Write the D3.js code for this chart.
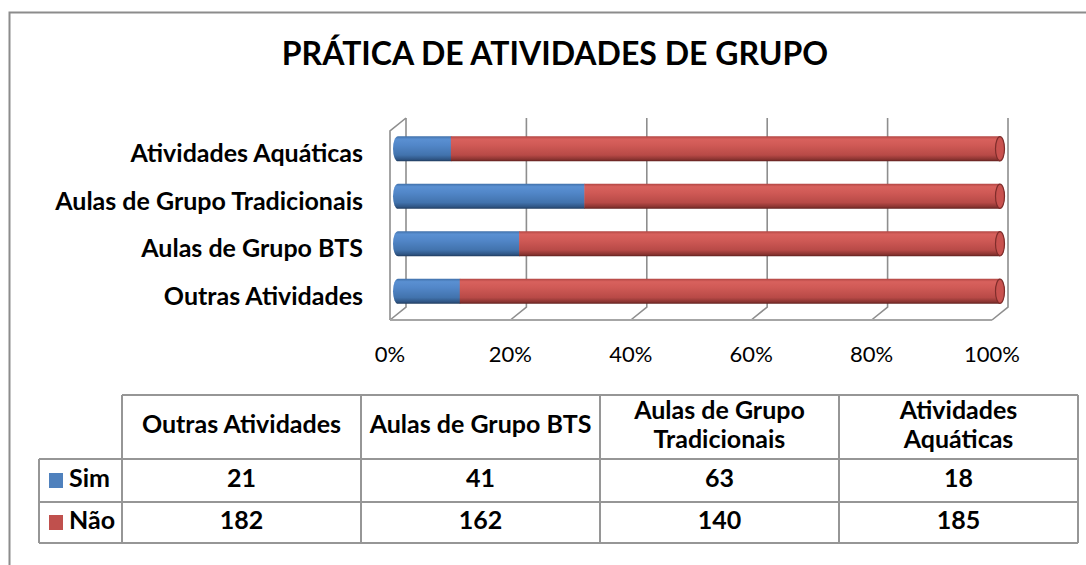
<!DOCTYPE html>
<html>
<head>
<meta charset="utf-8">
<script src="https://cdn.jsdelivr.net/npm/d3@7"></script>
<style>
  body { margin: 0; background: #fff; }
  text { font-family: Lato, "Open Sans", sans-serif; fill: #000; }
</style>
</head>
<body>
<script>
// ************************************************************************************
// DATA
// ************************************************************************************
var categories  = ["Outras Atividades", "Aulas de Grupo BTS", "Aulas de Grupo Tradicionais", "Atividades Aquáticas"]
  , sim         = [21, 41, 63, 18]
  , nao         = [182, 162, 140, 185]
  , seriesNames = ["Sim", "Não"]
  , tickValues  = [0, 0.2, 0.4, 0.6, 0.8, 1]

// ************************************************************************************
// GLOBAL VARIABLES
// ************************************************************************************
var W = 1086, H = 565
  , depth = {x: 16, y: -13}          // 3d offset back wall vs front
  , floorY = 320, wallTop = 118
  , colors = {Sim: "#4f81bd", "Não": "#c0504d"}
  , gridColor = "#8e8e8e"
  , labelSize = "25px"

var svg = d3.select("body").append("svg")
            .attr("width", W).attr("height", H)

var defs = svg.append("defs")

function cylGradient (id, stops) {
	var g = defs.append("linearGradient").attr("id", id)
	            .attr("x1", 0).attr("y1", 0).attr("x2", 0).attr("y2", 1)
	stops.forEach(function (s) {
		g.append("stop").attr("offset", s[0]).attr("stop-color", s[1])
	})
}
cylGradient("g-Sim", [[0, "#3f6fa8"], [0.12, "#5a90d2"], [0.35, "#5287c9"], [0.75, "#4273ad"], [0.92, "#2f5584"], [1, "#1f3a5c"]])
cylGradient("g-Não", [[0, "#b04542"], [0.12, "#d8615d"], [0.35, "#d05a56"], [0.75, "#b84a47"], [0.92, "#8a3431"], [1, "#5e1f1d"]])

// ************************************************************************************
// FRAME + TITLE
// ************************************************************************************
svg.append("path")
   .attr("d", "M9.5," + H + " V12.5 H" + W)
   .attr("fill", "none").attr("stroke", "#8c8c8c").attr("stroke-width", 2)

svg.append("text")
   .attr("x", 555).attr("y", 57)
   .attr("text-anchor", "middle").attr("dominant-baseline", "middle")
   .style("font-size", "32px").style("font-weight", "bold")
   .text("PRÁTICA DE ATIVIDADES DE GRUPO")

// ************************************************************************************
// SCALES
// ************************************************************************************
var x = d3.scaleLinear().domain([0, 1]).range([390, 992])      // front edge
  , xBar = function (v) { return x(v) + depth.x / 2 }           // mid depth
  , y = d3.scaleBand()
          .domain(categories.slice().reverse())
          .range([125, 315])
          .paddingInner(0.47).paddingOuter(0.235)

// ************************************************************************************
// 3D WALLS / GRID
// ************************************************************************************
var grid = svg.append("g").attr("fill", "none").attr("stroke", gridColor).attr("stroke-width", 1.6)

// side wall (left)
grid.append("path")
    .attr("d", "M" + x(0) + "," + floorY + " V" + (wallTop - depth.y) +
               " L" + (x(0) + depth.x) + "," + wallTop)

tickValues.forEach(function (t) {
	grid.append("path")
	    .attr("d", "M" + (x(t) + depth.x) + "," + wallTop +
	               " V" + (floorY + depth.y) +
	               " L" + x(t) + "," + floorY)
})

// floor front edge
grid.append("line")
    .attr("x1", x(0)).attr("x2", x(1))
    .attr("y1", floorY).attr("y2", floorY)
    .attr("stroke", "#a6a6a6").attr("stroke-width", 2.2)

// ************************************************************************************
// BARS (cylinders)
// ************************************************************************************
var rows = categories.map(function (c, i) { return {cat: c, "Sim": sim[i], "Não": nao[i]} })
  , stacked = d3.stack().keys(seriesNames).offset(d3.stackOffsetExpand)(rows)
  , bh = y.bandwidth()
  , rx = 5

var layers = svg.append("g").selectAll("g")
	.data(stacked).join("g")
	.attr("fill", function (s) { return "url(#g-" + s.key + ")" })

layers.selectAll("path")
	.data(function (s) { return s })
	.join("path")
	.attr("d", function (d) {
		var x0 = xBar(d[0]), x1 = xBar(d[1]), top = y(d.data.cat), bot = top + bh
		if (d[0] === 0)
			return "M" + x1 + "," + top + " H" + x0 +
			       " A" + rx + "," + (bh / 2) + " 0 0 0 " + x0 + "," + bot +
			       " H" + x1 + " Z"
		return "M" + (x0 - 0.5) + "," + top + " H" + x1 + " V" + bot + " H" + (x0 - 0.5) + " Z"
	})

// end caps
svg.append("g").selectAll("ellipse")
	.data(rows).join("ellipse")
	.attr("cx", xBar(1))
	.attr("cy", function (d) { return y(d.cat) + bh / 2 })
	.attr("rx", rx - 0.5).attr("ry", bh / 2 - 0.5)
	.attr("fill", "#c9524f").attr("stroke", "#7f2d2b").attr("stroke-width", 1.2)

// ************************************************************************************
// AXES LABELS
// ************************************************************************************
svg.append("g").selectAll("text")
	.data(categories).join("text")
	.attr("x", 363)
	.attr("y", function (c) { return y(c) + bh / 2 + 7 })
	.attr("text-anchor", "end").attr("dominant-baseline", "middle")
	.style("font-size", labelSize).style("font-weight", "bold")
	.text(function (c) { return c })

svg.append("g").selectAll("text")
	.data(tickValues).join("text")
	.attr("x", function (t) { return x(t) })
	.attr("y", 356)
	.attr("text-anchor", "middle").attr("dominant-baseline", "middle")
	.style("font-size", "22px")
	.text(d3.format(".0%"))

// ************************************************************************************
// DATA TABLE
// ************************************************************************************
var col = d3.scaleBand().domain(categories).range([122, 1078])
  , tTop = 395, tHead = 459, tRows = [459, 502, 543], tLeft = 39
  , table = svg.append("g")
  , lines = table.append("g").attr("stroke", "#969696").attr("stroke-width", 2).attr("fill", "none")

lines.append("line").attr("x1", col.range()[0]).attr("x2", col.range()[1]).attr("y1", tTop).attr("y2", tTop)
tRows.forEach(function (ry) {
	lines.append("line").attr("x1", tLeft).attr("x2", col.range()[1]).attr("y1", ry).attr("y2", ry)
})
lines.append("line").attr("x1", tLeft).attr("x2", tLeft).attr("y1", tHead).attr("y2", tRows[2])
categories.concat([null]).forEach(function (c) {
	var cx = c === null ? col.range()[1] : col(c)
	lines.append("line").attr("x1", cx).attr("x2", cx).attr("y1", tTop).attr("y2", tRows[2])
})

// header cells, wrapped if too wide
categories.forEach(function (c) {
	var cx = col(c) + col.bandwidth() / 2
	  , t = table.append("text")
	             .attr("x", cx).attr("y", (tTop + tHead) / 2)
	             .attr("text-anchor", "middle").attr("dominant-baseline", "middle")
	             .style("font-size", labelSize).style("font-weight", "bold")
	             .text(c)
	if (t.node().getComputedTextLength() > col.bandwidth() - 10) {
		var words = c.split(" ")
		  , split = words.length === 2 ? 1 : words.length - 1
		  , l1 = words.slice(0, split).join(" ")
		  , l2 = words.slice(split).join(" ")
		t.text(null)
		t.append("tspan").attr("x", cx).attr("y", (tTop + tHead) / 2 - 14.5).text(l1)
		t.append("tspan").attr("x", cx).attr("y", (tTop + tHead) / 2 + 14.5).text(l2)
	}
})

// series rows
var seriesVals = {Sim: sim, "Não": nao}
seriesNames.forEach(function (s, i) {
	var cy = (tRows[i] + tRows[i + 1]) / 2
	table.append("rect")
	     .attr("x", 49).attr("y", cy - 7.5).attr("width", 14).attr("height", 15)
	     .attr("fill", colors[s])
	table.append("text")
	     .attr("x", 69).attr("y", cy)
	     .attr("dominant-baseline", "middle")
	     .style("font-size", labelSize).style("font-weight", "bold")
	     .text(s)
	categories.forEach(function (c, j) {
		table.append("text")
		     .attr("x", col(c) + col.bandwidth() / 2).attr("y", cy)
		     .attr("text-anchor", "middle").attr("dominant-baseline", "middle")
		     .style("font-size", labelSize).style("font-weight", "bold")
		     .text(seriesVals[s][j])
	})
})
</script>
</body>
</html>
